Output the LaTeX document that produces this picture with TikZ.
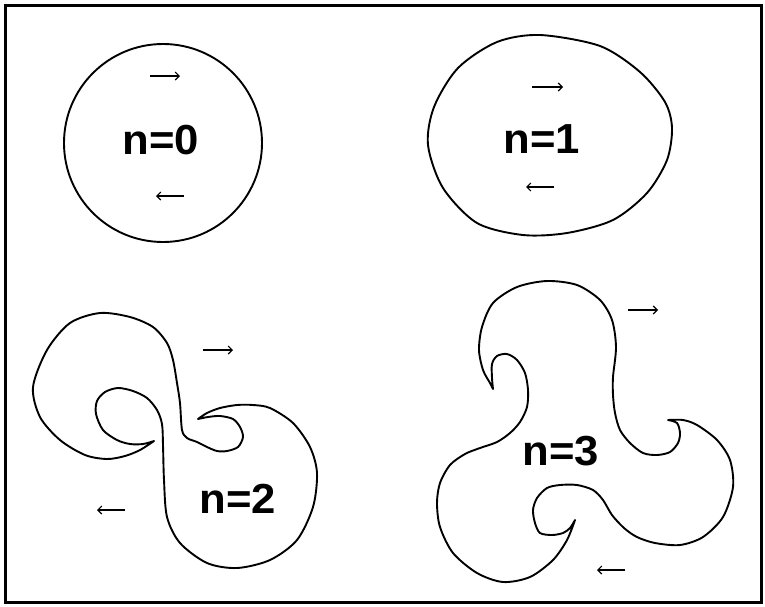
\documentclass[tikz,border=0pt]{standalone}
\usepackage{fontspec}
\setmainfont{Liberation Sans}
\usetikzlibrary{arrows.meta}
\tikzset{
  blob/.style={line width=1.9pt, line join=round},
  frame/.style={line width=3pt},
  spin/.style={line width=1.1pt, -{Straight Barb[length=4pt,width=8pt,line width=1.1pt]}},
  lbl/.style={anchor=base, inner sep=0pt, font=\fontsize{42}{42}\selectfont\bfseries, xscale=1.04}
}
\begin{document}
\begin{tikzpicture}[x=1pt,y=-1pt]
\useasboundingbox (0,0) rectangle (765,606);
\draw[frame] (5,5) rectangle (761,602);

% n = 0
\draw[blob] (163,143) circle[radius=99];
\node[lbl] (t0) at (161,154) {n=0};
\draw[spin] (150,76) -- (180,76);
\draw[spin] (184,196) -- (156,196);

% n = 1
\draw[blob] plot[smooth cycle] coordinates {
 (540,35) (600,46) (640,72) (665,102) (672,128) (667,160) (647,193)
 (613,220) (567,233) (523,235) (477,223) (443,188) (428,145) (434,107)
 (458,68) (497,42)};
\node[lbl] (t1) at (542,153) {n=1};
\draw[spin] (532,87) -- (563,87);
\draw[spin] (554,187) -- (526,187);

% n = 2
\draw[blob] plot[smooth] coordinates {
 (154,441) (143,444) (130,444) (117,440) (103,430) (96,414) (97,401)
 (105,392) (118,388) (133,391) (147,398) (157,410) (162,424) (163,445)
 (164,480) (167,517) (180,543) (207,563) (237,568) (270,560) (297,540)
 (313,507) (317,473) (310,447) (293,423) (270,408) (253,405) (237,405)
 (220,408) (207,413) (198,419)}
 -- plot[smooth] coordinates {
 (198,419) (208,417) (220,416) (233,419) (240,427) (243,437) (238,447)
 (227,451) (217,451) (207,447) (197,442) (187,438) (182,430) (180,403)
 (177,383) (173,360) (167,343) (153,327) (130,317) (100,313) (70,323)
 (47,350) (33,387) (40,417) (60,440) (85,455) (107,459) (125,456)
 (140,450) (154,441)} -- cycle;
\node[lbl] (t2) at (238,513) {n=2};
\draw[spin] (203,350) -- (233,350);
\draw[spin] (125,510) -- (97,510);

% n = 3
\draw[blob] plot[smooth] coordinates {
 (493,389) (492,378) (492,364) (497,356) (507,354) (517,360) (525,373)
 (528,390) (527,407) (520,422) (510,433) (497,442) (480,448) (465,454)
 (450,465) (440,483) (437,503) (440,527) (453,553) (477,573) (503,582)
 (530,577) (553,560) (567,540) (575,520)}
 -- plot[smooth] coordinates {
 (575,520) (570,528) (563,533) (552,535) (540,533) (535,523) (533,510)
 (537,498) (547,488) (560,485) (577,485) (593,490) (603,500) (612,515)
 (624,528) (637,537) (655,543) (680,545) (703,537) (723,517) (733,487)
 (730,460) (717,440) (697,425) (683,420) (668,420)}
 -- plot[smooth] coordinates {
 (668,420) (677,423) (680,433) (678,443) (670,452) (657,455) (643,453)
 (630,443) (620,430) (615,413) (613,395) (613,377) (616,347) (612,320)
 (600,300) (577,285) (547,281) (517,287) (493,303) (482,327) (479,350)
 (483,370) (490,383) (493,389)} -- cycle;
\node[lbl] (t3) at (561,465) {n=3};
\draw[spin] (628,310) -- (658,310);
\draw[spin] (625,570) -- (597,570);
\end{tikzpicture}
\end{document}
